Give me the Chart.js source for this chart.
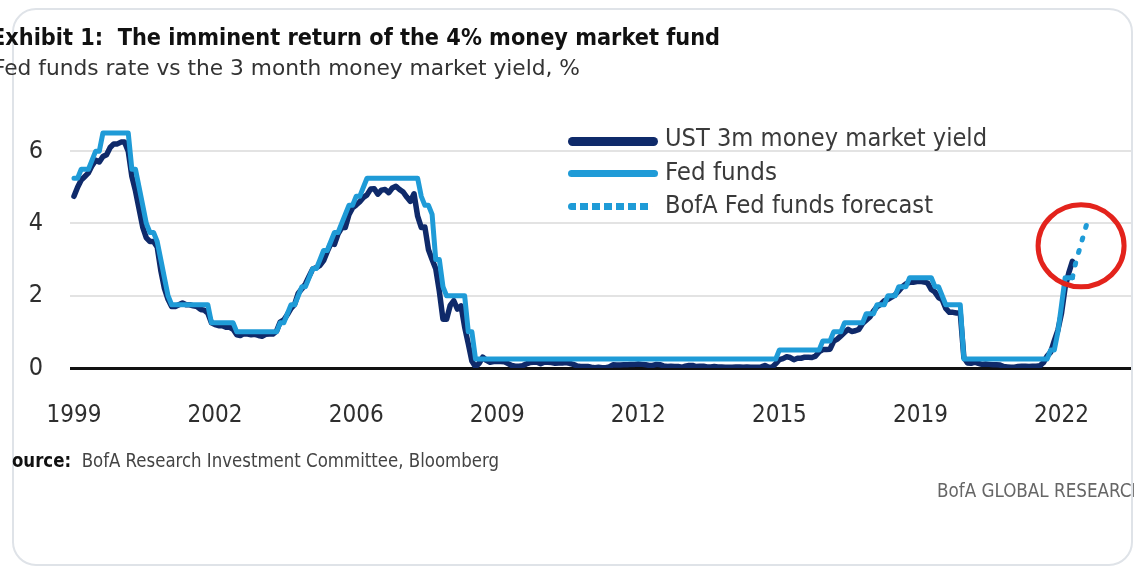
<!DOCTYPE html>
<html>
<head>
<meta charset="utf-8">
<script src="https://cdn.jsdelivr.net/npm/chart.js@4.4.1/dist/chart.umd.min.js"></script>
<style>
html,body{margin:0;padding:0;background:#fff;}
body{width:1134px;height:569px;overflow:hidden;position:relative;font-family:"Liberation Sans Narrow","DejaVu Sans Condensed","Liberation Sans",sans-serif;}
#frame{position:absolute;left:12px;top:8px;width:1117px;height:554px;border:2px solid #dfe3e8;border-radius:24px;}
#chart{position:absolute;left:0;top:0;}
.t{position:absolute;white-space:nowrap;transform-origin:0 50%;line-height:1;}
#title{left:-9px;top:26px;font-size:23px;font-weight:bold;color:#111;}
#subtitle{left:-7px;top:57px;font-size:22px;color:#333;}
#srcclip{position:absolute;left:11px;top:440px;width:600px;height:40px;overflow:hidden;}
#source{left:-11px;top:11px;font-size:19px;color:#444;}
#source b{color:#111;}
#footer{left:937px;top:480px;font-size:20px;color:#666;}
.lgline{position:absolute;}
.lgtext{font-size:25px;color:#3a3a3a;}
</style>
</head>
<body>
<div id="frame"></div>
<canvas id="chart" width="1134" height="569"></canvas>
<div class="t" id="title" data-w="729">Exhibit 1:&nbsp; The imminent return of the 4% money market fund</div>
<div class="t" id="subtitle" data-w="587">Fed funds rate vs the 3 month money market yield, %</div>
<div id="srcclip"><div class="t" id="source" data-w="499"><b>Source:</b>&nbsp; BofA Research Investment Committee, Bloomberg</div></div>
<div class="t" id="footer" data-w="207">BofA GLOBAL RESEARCH</div>
<div id="legend"></div>
<script>
// ---- data ----
const startMonth = '1999-09';
const seriesNames = ['UST 3m money market yield', 'Fed funds', 'BofA Fed funds forecast'];
const ust3mYield = [
  4.75, 5.0, 5.2, 5.3,
  5.4, 5.6, 5.75, 5.7, 5.85, 5.9, 6.1, 6.2, 6.2, 6.25, 6.25, 6.0,
  5.3, 4.9, 4.4, 3.9, 3.6, 3.5, 3.5, 3.35, 2.7, 2.2, 1.9, 1.7,
  1.7, 1.75, 1.8, 1.75, 1.75, 1.72, 1.7, 1.62, 1.6, 1.52, 1.25, 1.2,
  1.17, 1.17, 1.13, 1.13, 1.07, 0.92, 0.9, 0.95, 0.94, 0.92, 0.93, 0.9,
  0.88, 0.93, 0.94, 0.94, 1.02, 1.27, 1.33, 1.48, 1.65, 1.76, 2.07, 2.19,
  2.33, 2.54, 2.74, 2.78, 2.84, 2.97, 3.22, 3.44, 3.42, 3.71, 3.88, 3.89,
  4.24, 4.43, 4.51, 4.6, 4.72, 4.79, 4.95, 4.96, 4.81, 4.92, 4.94, 4.85,
  4.98, 5.03, 4.94, 4.87, 4.73, 4.61, 4.82, 4.2, 3.89, 3.9, 3.27, 3.0,
  2.75, 2.12, 1.35, 1.35, 1.73, 1.86, 1.63, 1.72, 1.13, 0.67, 0.19, 0.03,
  0.13, 0.3, 0.21, 0.16, 0.18, 0.18, 0.18, 0.17, 0.12, 0.07, 0.05, 0.05,
  0.06, 0.11, 0.15, 0.16, 0.16, 0.12, 0.16, 0.16, 0.15, 0.13, 0.14, 0.14,
  0.15, 0.13, 0.1, 0.06, 0.04, 0.04, 0.04, 0.02, 0.01, 0.02, 0.01, 0.01,
  0.03, 0.09, 0.08, 0.08, 0.09, 0.09, 0.1, 0.1, 0.11, 0.1, 0.09, 0.07,
  0.07, 0.1, 0.09, 0.06, 0.04, 0.05, 0.04, 0.04, 0.02, 0.05, 0.07, 0.07,
  0.04, 0.05, 0.05, 0.03, 0.03, 0.04, 0.03, 0.03, 0.02, 0.02, 0.02, 0.03,
  0.03, 0.02, 0.03, 0.02, 0.02, 0.02, 0.03, 0.07, 0.02, 0.02, 0.12, 0.23,
  0.26, 0.31, 0.29, 0.23, 0.27, 0.27, 0.3, 0.3, 0.29, 0.33, 0.45, 0.51,
  0.51, 0.52, 0.74, 0.8, 0.89, 0.98, 1.07, 1.01, 1.03, 1.07, 1.23, 1.32,
  1.41, 1.57, 1.7, 1.76, 1.86, 1.9, 1.96, 2.03, 2.13, 2.25, 2.33, 2.37,
  2.37, 2.39, 2.4, 2.38, 2.35, 2.17, 2.1, 1.95, 1.89, 1.65, 1.54, 1.54,
  1.52, 1.52, 0.29, 0.14, 0.13, 0.16, 0.13, 0.1, 0.11, 0.1, 0.09, 0.09,
  0.08, 0.04, 0.03, 0.02, 0.02, 0.04, 0.05, 0.05, 0.04, 0.05, 0.05, 0.06,
  0.15, 0.33, 0.44, 0.76, 1.05, 1.52, 2.23, 2.63, 2.95
];
const fedFundsRate = [
  5.25, 5.25, 5.5, 5.5,
  5.5, 5.75, 6.0, 6.0, 6.5, 6.5, 6.5, 6.5, 6.5, 6.5, 6.5, 6.5,
  5.5, 5.5, 5.0, 4.5, 4.0, 3.75, 3.75, 3.5, 3.0, 2.5, 2.0, 1.75,
  1.75, 1.75, 1.75, 1.75, 1.75, 1.75, 1.75, 1.75, 1.75, 1.75, 1.25, 1.25,
  1.25, 1.25, 1.25, 1.25, 1.25, 1.0, 1.0, 1.0, 1.0, 1.0, 1.0, 1.0,
  1.0, 1.0, 1.0, 1.0, 1.0, 1.25, 1.25, 1.5, 1.75, 1.75, 2.0, 2.25,
  2.25, 2.5, 2.75, 2.75, 3.0, 3.25, 3.25, 3.5, 3.75, 3.75, 4.0, 4.25,
  4.5, 4.5, 4.75, 4.75, 5.0, 5.25, 5.25, 5.25, 5.25, 5.25, 5.25, 5.25,
  5.25, 5.25, 5.25, 5.25, 5.25, 5.25, 5.25, 5.25, 4.75, 4.5, 4.5, 4.25,
  3.0, 3.0, 2.25, 2.0, 2.0, 2.0, 2.0, 2.0, 2.0, 1.0, 1.0, 0.25,
  0.25, 0.25, 0.25, 0.25, 0.25, 0.25, 0.25, 0.25, 0.25, 0.25, 0.25, 0.25,
  0.25, 0.25, 0.25, 0.25, 0.25, 0.25, 0.25, 0.25, 0.25, 0.25, 0.25, 0.25,
  0.25, 0.25, 0.25, 0.25, 0.25, 0.25, 0.25, 0.25, 0.25, 0.25, 0.25, 0.25,
  0.25, 0.25, 0.25, 0.25, 0.25, 0.25, 0.25, 0.25, 0.25, 0.25, 0.25, 0.25,
  0.25, 0.25, 0.25, 0.25, 0.25, 0.25, 0.25, 0.25, 0.25, 0.25, 0.25, 0.25,
  0.25, 0.25, 0.25, 0.25, 0.25, 0.25, 0.25, 0.25, 0.25, 0.25, 0.25, 0.25,
  0.25, 0.25, 0.25, 0.25, 0.25, 0.25, 0.25, 0.25, 0.25, 0.25, 0.25, 0.5,
  0.5, 0.5, 0.5, 0.5, 0.5, 0.5, 0.5, 0.5, 0.5, 0.5, 0.5, 0.75,
  0.75, 0.75, 1.0, 1.0, 1.0, 1.25, 1.25, 1.25, 1.25, 1.25, 1.25, 1.5,
  1.5, 1.5, 1.75, 1.75, 1.75, 2.0, 2.0, 2.0, 2.25, 2.25, 2.25, 2.5,
  2.5, 2.5, 2.5, 2.5, 2.5, 2.5, 2.25, 2.25, 2.0, 1.75, 1.75, 1.75,
  1.75, 1.75, 0.25, 0.25, 0.25, 0.25, 0.25, 0.25, 0.25, 0.25, 0.25, 0.25,
  0.25, 0.25, 0.25, 0.25, 0.25, 0.25, 0.25, 0.25, 0.25, 0.25, 0.25, 0.25,
  0.25, 0.25, 0.5, 0.5, 1.0, 1.75, 2.5, 2.5, 2.5
];
const forecastMonths = ['2022-09', '2022-10', '2022-11', '2022-12', '2023-01'];
const forecastRate = [2.5, 2.95, 3.3, 3.65, 4.0];
const xTickMonths = ['1999-09', '2002-12', '2006-03', '2009-06', '2012-09', '2015-12', '2019-03', '2022-06'];
const xTickLabels = ['1999', '2002', '2006', '2009', '2012', '2015', '2019', '2022'];
const yTickValues = [0, 2, 4, 6];
const highlight = { month: '2022-11', value: 3.38 };

// ---- helpers ----
function monthIndex(m) {
  const [y, mo] = m.split('-').map(Number);
  const [sy, sm] = startMonth.split('-').map(Number);
  return (y - sy) * 12 + (mo - sm);
}
const NAVY = '#0f2a6a', BLUE = '#1f9bd7', RED = '#e3231c';
const FONT = '"Liberation Sans Narrow","DejaVu Sans Condensed","Liberation Sans",sans-serif';

const ustPts = ust3mYield.map((v, i) => ({ x: i, y: v }));
const fedPts = fedFundsRate.map((v, i) => ({ x: i, y: v }));
const fcPts = forecastMonths.map((m, i) => ({ x: monthIndex(m), y: forecastRate[i] }));

const circlePlugin = {
  id: 'circle',
  afterDatasetsDraw(chart) {
    const { ctx, scales } = chart;
    const cx = scales.x.getPixelForValue(monthIndex(highlight.month) + 0.4);
    const cy = scales.y.getPixelForValue(highlight.value);
    ctx.save();
    ctx.beginPath();
    ctx.ellipse(cx, cy, 43, 41, 0, 0, Math.PI * 2);
    ctx.strokeStyle = RED;
    ctx.lineWidth = 5;
    ctx.stroke();
    ctx.restore();
  }
};

const chart = new Chart(document.getElementById('chart'), {
  type: 'line',
  data: {
    datasets: [
      { label: seriesNames[0], data: ustPts, borderColor: NAVY, borderWidth: 5.5, pointRadius: 0, tension: 0, order: 2, borderJoinStyle: 'round', borderCapStyle: 'round' },
      { label: seriesNames[1], data: fedPts, borderColor: BLUE, borderWidth: 5, pointRadius: 0, tension: 0, order: 1, borderJoinStyle: 'round', borderCapStyle: 'round' },
      { label: seriesNames[2], data: fcPts, borderColor: BLUE, borderWidth: 5, borderDash: [2, 11], borderCapStyle: 'round', pointRadius: 0, tension: 0, order: 0 }
    ]
  },
  options: {
    responsive: false,
    animation: false,
    devicePixelRatio: 1,
    layout: { padding: { left: 0, top: 115, right: 3, bottom: 0 } },
    plugins: { legend: { display: false }, tooltip: { enabled: false } },
    scales: {
      x: {
        type: 'linear',
        min: -1.1,
        max: 292.2,
        afterBuildTicks: s => { s.ticks = xTickMonths.map(m => ({ value: monthIndex(m) })); },
        afterFit: s => { s.height = 201; },
        grid: { display: false },
        border: { display: false },
        ticks: {
          autoSkip: false, maxRotation: 0, padding: 25,
          color: '#2e2e2e', font: { family: FONT, size: 24 },
          callback: (v, i) => xTickLabels[i]
        }
      },
      y: {
        min: 0,
        max: 7,
        afterBuildTicks: s => { s.ticks = yTickValues.map(v => ({ value: v })); },
        afterFit: s => { s.width = 70; },
        border: { display: false },
        grid: {
          drawTicks: false,
          color: c => (c.tick && c.tick.value === 0) ? '#111' : '#e3e3e3',
          lineWidth: c => (c.tick && c.tick.value === 0) ? 3 : 2
        },
        ticks: {
          padding: 27, color: '#2e2e2e', font: { family: FONT, size: 25 },
          callback: v => String(v)
        }
      }
    }
  },
  plugins: [circlePlugin]
});

// ---- legend (HTML, built from the dataset labels) ----
const lg = document.getElementById('legend');
const lgStyles = [
  { top: 137, h: 9, bg: NAVY },
  { top: 169.5, h: 7, bg: BLUE },
  { top: 202.5, h: 7, bg: 'repeating-linear-gradient(to right,' + BLUE + ' 0 8px, transparent 8px 12px)', w: 84 }
];
const lgTextTop = [125, 159, 192];
const lgTextW = [322, 112, 268];
chart.data.datasets.forEach((ds, i) => {
  const st = lgStyles[i];
  const ln = document.createElement('div');
  ln.className = 'lgline';
  ln.style.cssText = `left:568px;top:${st.top}px;width:${st.w || 90}px;height:${st.h}px;background:${st.bg};border-radius:${st.h / 2}px;`;
  lg.appendChild(ln);
  const tx = document.createElement('div');
  tx.className = 't lgtext';
  tx.style.left = '665px';
  tx.style.top = lgTextTop[i] + 'px';
  tx.dataset.w = lgTextW[i];
  tx.textContent = ds.label;
  lg.appendChild(tx);
});

// fit text widths to the reference
document.querySelectorAll('.t[data-w]').forEach(el => {
  el.style.display = 'inline-block';
  const w = el.getBoundingClientRect().width;
  const target = parseFloat(el.dataset.w);
  if (w > 0) el.style.transform = `scaleX(${(target / w).toFixed(4)})`;
});
</script>
</body>
</html>
